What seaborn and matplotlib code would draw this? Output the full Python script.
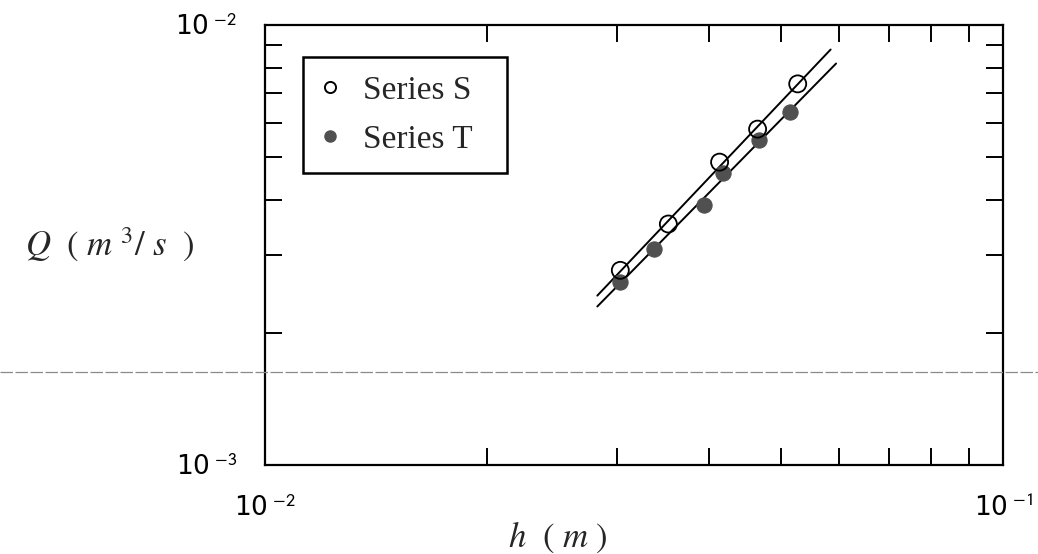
import numpy as np
import pandas as pd
import matplotlib
matplotlib.use("Agg")
import matplotlib.pyplot as plt
import seaborn as sns
from matplotlib.lines import Line2D
from matplotlib.ticker import LogLocator, FixedFormatter, FixedLocator, NullFormatter

# values
h_S = [0.0303, 0.0352, 0.0413, 0.0465, 0.0527]
Q_S = [0.00277, 0.00353, 0.00488, 0.00580, 0.00735]
h_T = [0.0303, 0.0337, 0.0393, 0.0418, 0.0467, 0.0514]
Q_T = [0.00261, 0.00310, 0.00390, 0.00461, 0.00548, 0.00634]
fit_range_S = [0.0282, 0.0584]
fit_range_T = [0.0282, 0.0594]
xtick_labels = ["10$^{\\ \\mathsf{-2}}$", "10$^{\\ \\mathsf{-1}}$"]
ytick_labels = ["10$^{\\ \\mathsf{-3}}$", "10$^{\\ \\mathsf{-2}}$"]

df = pd.concat([
    pd.DataFrame({"h": h_S, "Q": Q_S, "series": "Series S"}),
    pd.DataFrame({"h": h_T, "Q": Q_T, "series": "Series T"}),
])

sns.set_style("ticks")
plt.rcParams["font.family"] = ["DejaVu Sans"]
plt.rcParams["mathtext.fontset"] = "stix"

fig = plt.figure(figsize=(10.38, 5.54), dpi=100)
ax = fig.add_axes([0.2553, 0.1606, 0.7110, 0.7942])

# power-law fit lines in log-log space
for hh, qq, rng in [(h_S, Q_S, fit_range_S), (h_T, Q_T, fit_range_T)]:
    b, a = np.polyfit(np.log10(hh), np.log10(qq), 1)
    xs = np.array(rng)
    line = pd.DataFrame({"h": xs, "Q": 10 ** (a + b * np.log10(xs))})
    sns.lineplot(data=line, x="h", y="Q", color="black", lw=1.4, ax=ax, legend=False)

sS = df[df.series == "Series S"]
sT = df[df.series == "Series T"]
sns.scatterplot(data=sT, x="h", y="Q", marker="o", s=120, color="#505050",
                edgecolor="#505050", linewidth=0.8, ax=ax, legend=False, zorder=3)
sns.scatterplot(data=sS, x="h", y="Q", marker="o", s=150, facecolor="none",
                edgecolor="black", linewidth=1.3, ax=ax, legend=False, zorder=4)

ax.set_xscale("log")
ax.set_yscale("log")
ax.set_xlim(0.01, 0.1)
ax.set_ylim(0.001, 0.01)

ax.xaxis.set_major_locator(FixedLocator([0.01, 0.1]))
ax.yaxis.set_major_locator(FixedLocator([0.001, 0.01]))
ax.xaxis.set_major_formatter(FixedFormatter(xtick_labels))
ax.yaxis.set_major_formatter(FixedFormatter(ytick_labels))
ax.xaxis.set_minor_locator(LogLocator(base=10, subs=np.arange(2, 10)))
ax.yaxis.set_minor_locator(LogLocator(base=10, subs=np.arange(2, 10)))
ax.xaxis.set_minor_formatter(NullFormatter())
ax.yaxis.set_minor_formatter(NullFormatter())
ax.tick_params(which="both", direction="in", top=True, right=True, width=1.4, colors="black")
ax.tick_params(which="minor", length=12)
ax.tick_params(which="major", length=0, labelsize=19)
ax.tick_params(axis="x", which="major", pad=22)
ax.tick_params(axis="y", which="major", pad=20)
for sp in ax.spines.values():
    sp.set_linewidth(1.6)
    sp.set_color("black")

ax.set_xlabel(r"$\mathbf{\mathit{h}}\ \ (\ \mathit{m}\ )$", fontsize=25)
ax.set_ylabel(r"$Q\ \ (\ m\ ^{3}/\ s\ \ )$", fontsize=25, rotation=0, ha="center", va="center")
ax.xaxis.set_label_coords(0.397, -0.125)
ax.yaxis.set_label_coords(-0.21, 0.5)

hS = Line2D([], [], marker="o", ls="", mfc="none", mec="black", mew=1.4, ms=8)
hT = Line2D([], [], marker="o", ls="", mfc="#505050", mec="#505050", ms=8)
leg = ax.legend([hS, hT], ["Series S  ", "Series T  "], loc="upper left",
                bbox_to_anchor=(0.052, 0.927), borderaxespad=0, fancybox=False,
                framealpha=1, edgecolor="black",
                prop={"family": "Liberation Serif", "size": 24},
                handletextpad=0.75, borderpad=0.55, labelspacing=0.55, handlelength=0.5)
leg.get_frame().set_linewidth(1.8)

# faint scan line across the page
fig.add_artist(Line2D([0, 1], [1 - 372 / 554, 1 - 372 / 554], color="#8a8a8a",
                      lw=0.9, ls=(0, (10, 2))))

fig.savefig("out.png", dpi=100)
